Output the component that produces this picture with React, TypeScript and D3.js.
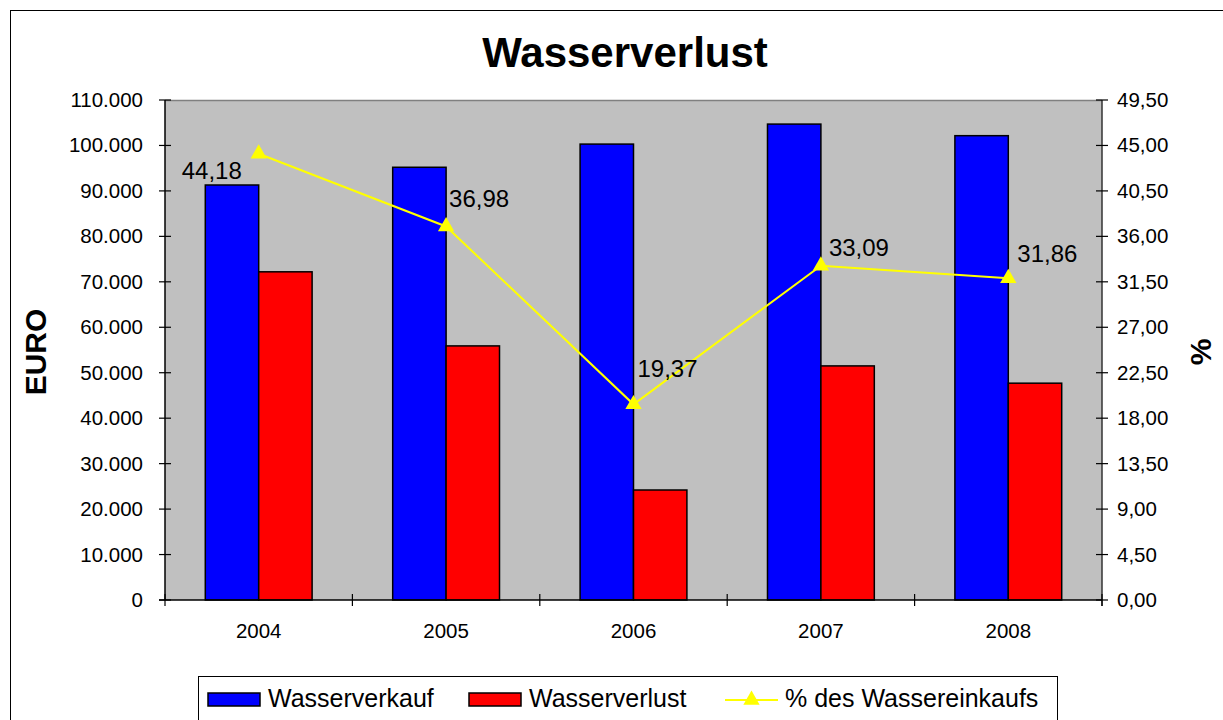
import { useEffect, useRef } from 'react'
import * as d3 from 'd3'

const years = ['2004', '2005', '2006', '2007', '2008']
const wasserverkauf = [91300, 95200, 100300, 104700, 102150]
const wasserverlust = [72200, 55900, 24200, 51500, 47700]
const prozent = [44.18, 36.98, 19.37, 33.09, 31.86]
const leftTicks = [0, 10000, 20000, 30000, 40000, 50000, 60000, 70000, 80000, 90000, 100000, 110000]
const rightTicks = [0, 4.5, 9, 13.5, 18, 22.5, 27, 31.5, 36, 40.5, 45, 49.5]

// manual label placement (as in the original chart)
const labelOffsets: [number, number][] = [[-77, 25], [3, -19], [4, -27], [8, -10], [9, -16]]

const FONT = 'Liberation Sans, Arial, sans-serif'

export default function App() {
  const svgRef = useRef<SVGSVGElement>(null)

  useEffect(() => {
    if (!svgRef.current) return
    const width = 1223
    const height = 720
    d3.select(svgRef.current).selectAll('*').remove()

    const svg = d3.select(svgRef.current)
      .attr('width', width)
      .attr('height', height)
      .style('font-family', FONT)

    svg.append('rect')
      .attr('x', 10.5).attr('y', 10.5)
      .attr('width', 1240).attr('height', 740)
      .attr('fill', 'white').attr('stroke', '#000').attr('stroke-width', 1)

    const margin = { top: 100, left: 165, right: 1102, bottom: 600 }

    const x = d3.scaleBand().domain(years).range([margin.left, margin.right])
    const yL = d3.scaleLinear().domain([0, 110000]).range([margin.bottom, margin.top])
    const yR = d3.scaleLinear().domain([0, 49.5]).range([margin.bottom, margin.top])

    // plot area
    svg.append('rect')
      .attr('x', margin.left).attr('y', margin.top)
      .attr('width', margin.right - margin.left).attr('height', margin.bottom - margin.top)
      .attr('fill', '#C0C0C0')
    svg.append('line')
      .attr('x1', margin.left).attr('x2', margin.right)
      .attr('y1', margin.top + 0.5).attr('y2', margin.top + 0.5)
      .attr('stroke', '#808080').attr('stroke-width', 1.5)

    // bars
    const groupW = x.bandwidth() * 0.57
    const barW = groupW / 2
    const fmt = (v: number) => d3.format(',')(v).replace(/,/g, '.')

    const series = [
      { values: wasserverkauf, color: '#0000FF', off: 0 },
      { values: wasserverlust, color: '#FF0000', off: 1 },
    ]
    series.forEach(s => {
      svg.append('g').selectAll('rect')
        .data(s.values)
        .enter().append('rect')
        .attr('x', (_, i) => (x(years[i]) as number) + (x.bandwidth() - groupW) / 2 + s.off * barW)
        .attr('y', d => yL(d))
        .attr('width', barW)
        .attr('height', d => yL(0) - yL(d))
        .attr('fill', s.color)
        .attr('stroke', '#000')
        .attr('stroke-width', 1.5)
    })

    // left axis
    const gl = svg.append('g')
    gl.append('line')
      .attr('x1', margin.left).attr('x2', margin.left)
      .attr('y1', margin.top).attr('y2', margin.bottom)
      .attr('stroke', '#000').attr('stroke-width', 1.5)
    leftTicks.forEach(t => {
      gl.append('line')
        .attr('x1', margin.left - 6).attr('x2', margin.left + 6)
        .attr('y1', yL(t)).attr('y2', yL(t))
        .attr('stroke', '#000').attr('stroke-width', 1.2)
      gl.append('text')
        .attr('x', 143).attr('y', yL(t) + 7)
        .attr('text-anchor', 'end')
        .attr('font-size', 20.5)
        .text(fmt(t))
    })

    // right axis
    const gr = svg.append('g')
    gr.append('line')
      .attr('x1', margin.right).attr('x2', margin.right)
      .attr('y1', margin.top).attr('y2', margin.bottom + 6)
      .attr('stroke', '#333').attr('stroke-width', 1.5)
    rightTicks.forEach(t => {
      gr.append('line')
        .attr('x1', margin.right - 6).attr('x2', margin.right + 6)
        .attr('y1', yR(t)).attr('y2', yR(t))
        .attr('stroke', '#000').attr('stroke-width', 1.2)
      gr.append('text')
        .attr('x', 1117).attr('y', yR(t) + 7)
        .attr('text-anchor', 'start')
        .attr('font-size', 20.5)
        .text(t.toFixed(2).replace('.', ','))
    })

    // bottom axis
    const gb = svg.append('g')
    gb.append('line')
      .attr('x1', margin.left - 6).attr('x2', margin.right)
      .attr('y1', margin.bottom).attr('y2', margin.bottom)
      .attr('stroke', '#000').attr('stroke-width', 1.5)
    const boundaries = years.map(y => x(y) as number).concat([margin.right])
    boundaries.forEach(b => {
      gb.append('line')
        .attr('x1', b).attr('x2', b)
        .attr('y1', margin.bottom - 6).attr('y2', margin.bottom + 6)
        .attr('stroke', '#000').attr('stroke-width', 1.2)
    })
    years.forEach(y => {
      gb.append('text')
        .attr('x', (x(y) as number) + x.bandwidth() / 2)
        .attr('y', 638)
        .attr('text-anchor', 'middle')
        .attr('font-size', 20.5)
        .text(y)
    })

    // line series
    const cx = (i: number) => (x(years[i]) as number) + x.bandwidth() / 2
    const line = d3.line<number>()
      .x((_, i) => cx(i))
      .y(d => yR(d))
    svg.append('path')
      .datum(prozent)
      .attr('d', line)
      .attr('fill', 'none')
      .attr('stroke', '#FFFF00')
      .attr('stroke-width', 2)

    const tri = d3.symbol().type(d3.symbolTriangle).size(115)
    svg.append('g').selectAll('path')
      .data(prozent)
      .enter().append('path')
      .attr('d', tri)
      .attr('transform', (d, i) => `translate(${cx(i)},${yR(d)})`)
      .attr('fill', '#FFFF00')

    svg.append('g').selectAll('text')
      .data(prozent)
      .enter().append('text')
      .attr('x', (_, i) => cx(i) + labelOffsets[i][0])
      .attr('y', (d, i) => yR(d) + labelOffsets[i][1])
      .attr('font-size', 24)
      .attr('fill', '#000')
      .text(d => d.toFixed(2).replace('.', ','))

    // title
    svg.append('text')
      .attr('x', 625).attr('y', 67)
      .attr('text-anchor', 'middle')
      .attr('font-size', 42)
      .attr('font-weight', 'bold')
      .text('Wasserverlust')

    // axis titles
    svg.append('text')
      .attr('transform', 'translate(46,352) rotate(-90)')
      .attr('text-anchor', 'middle')
      .attr('font-size', 30)
      .attr('font-weight', 'bold')
      .text('EURO')
    svg.append('text')
      .attr('transform', 'translate(1211,352) rotate(-90)')
      .attr('text-anchor', 'middle')
      .attr('font-size', 30)
      .attr('font-weight', 'bold')
      .text('%')

    // legend
    const lg = svg.append('g')
    lg.append('rect')
      .attr('x', 198.5).attr('y', 676.5)
      .attr('width', 859).attr('height', 60)
      .attr('fill', 'white').attr('stroke', '#000').attr('stroke-width', 1)
    const legendItems = [
      { label: 'Wasserverkauf', color: '#0000FF', x: 208, type: 'rect' },
      { label: 'Wasserverlust', color: '#FF0000', x: 469, type: 'rect' },
      { label: '% des Wassereinkaufs', color: '#FFFF00', x: 725, type: 'line' },
    ]
    legendItems.forEach(it => {
      if (it.type === 'rect') {
        lg.append('rect')
          .attr('x', it.x).attr('y', 693)
          .attr('width', 52).attr('height', 13)
          .attr('fill', it.color).attr('stroke', '#000').attr('stroke-width', 1.5)
      } else {
        lg.append('line')
          .attr('x1', it.x).attr('x2', it.x + 53)
          .attr('y1', 700).attr('y2', 700)
          .attr('stroke', it.color).attr('stroke-width', 2)
        lg.append('path')
          .attr('d', tri)
          .attr('transform', `translate(${it.x + 26.5},700)`)
          .attr('fill', it.color)
      }
      lg.append('text')
        .attr('x', it.x + 60).attr('y', 707)
        .attr('font-size', 25)
        .text(it.label)
    })
  }, [])

  return (
    <div style={{ position: 'absolute', left: 0, top: 0 }}>
      <svg ref={svgRef} style={{ display: 'block' }} />
    </div>
  )
}
